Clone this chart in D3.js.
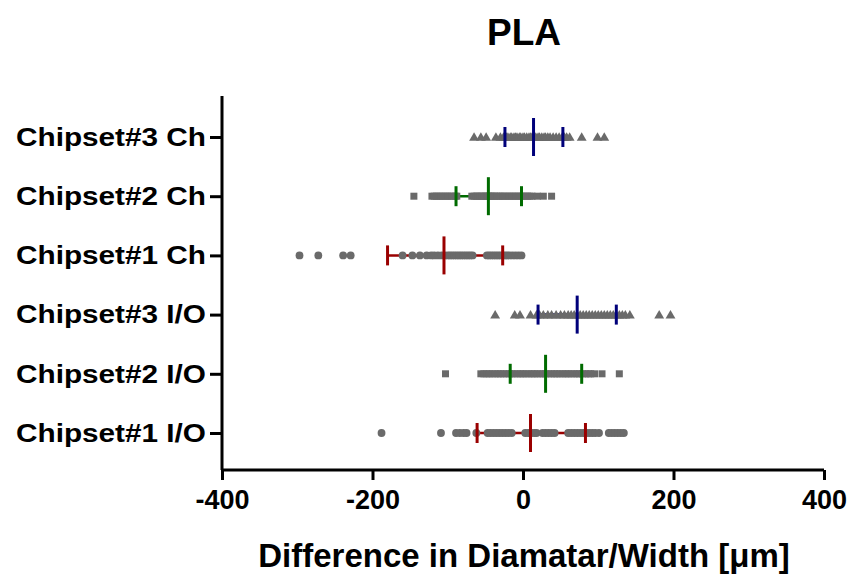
<!DOCTYPE html>
<html><head><meta charset="utf-8">
<script src="https://cdn.jsdelivr.net/npm/d3@7"></script>
<style>body{margin:0;background:#fff}svg{display:block}text{font-family:"Liberation Sans",Arial,sans-serif;font-weight:bold;fill:#000}</style>
</head><body>
<script>
const categories = ["Chipset#1 I/O","Chipset#2 I/O","Chipset#3 I/O","Chipset#1 Ch","Chipset#2 Ch","Chipset#3 Ch"];
const shapes = ["circle","square","triangle","circle","square","triangle"];
const barColors = ["#9a0000","#006b00","#00007a","#9a0000","#006b00","#00007a"];
const chipset1IO = [-188,-109,-89,-84,-79,-75,-62,-47,-43,-39,-35,-31,-27,-23,-19,-15,3,7,11,15,18,26,30,34,38,42,60,64,68,72,76,80,84,88,92,96,101,114,118,122,126,130,134];
const chipset2IO = [-103,-56,-52,-48,-45,-41,-37,-33,-30,-26,-22,-18,-15,-11,-7,-3,0,4,8,12,15,19,23,27,30,34,38,42,45,49,53,57,60,64,68,72,75,79,83,87,90,95,105,128];
const chipset3IO = [-37,-11,-4,10,18,22,27,33,38,44,50,55,60,64,68,72,76,80,84,88,92,96,100,104,108,112,116,120,124,128,132,136,142,181,196];
const chipset1Ch = [-297,-272,-239,-229,-160,-147,-137,-128,-122,-118,-113,-108,-104,-100,-97,-94,-91,-88,-85,-82,-79,-76,-73,-70,-67,-48,-45,-42,-39,-36,-33,-30,-27,-24,-21,-18,-14,-10,-6,-2];
const chipset2Ch = [-145,-121,-118,-115,-112,-109,-106,-103,-100,-97,-94,-90,-88,-68,-65,-62,-60,-57,-55,-52,-50,-48,-46,-44,-42,-40,-38,-35,-32,-30,-27,-24,-21,-18,-15,-12,-9,-6,-3,0,3,6,9,12,19,27,38];
const chipset3Ch = [-65,-56,-49,-36,-30,-26,-24,-22,-20,-17,-15,-12,-10,-8,-5,-3,0,2,5,8,10,12,14,15,17,20,22,25,28,30,33,36,40,44,48,52,53,55,58,62,78,99,108];
const seriesValues = [chipset1IO, chipset2IO, chipset3IO, chipset1Ch, chipset2Ch, chipset3Ch];
const medians = [10, 30, 72, -105, -46, 14];
const lowerBars = [-61, -17, 20, -180, -89, -24];
const upperBars = [83, 78, 124, -27, -2, 53];
const xTicks = [-400,-200,0,200,400];
const title = "PLA";
const xLabel = "Difference in Diamatar/Width [\u03bcm]";

const W = 850, H = 578;
const svg = d3.select("body").append("svg").attr("width", W).attr("height", H);
const mLeft = 222, mRight = 824, mTop = 96, mBottom = 470;
const x = d3.scaleLinear().domain([-400, 400]).range([mLeft, mRight]);
const y = d3.scalePoint().domain(categories).range([433, 137]);

const symbolOf = {circle: d3.symbolCircle, square: d3.symbolSquare, triangle: d3.symbolTriangle};
const sizeOf = {circle: 48, square: 49, triangle: 42};

categories.forEach((c, i) => {
  const g = svg.append("g");
  const cy = y(c);
  g.append("line").attr("x1", x(lowerBars[i])).attr("x2", x(upperBars[i]))
    .attr("y1", cy).attr("y2", cy).attr("stroke", barColors[i]).attr("stroke-width", 2.5);
  g.selectAll("path.pt").data(seriesValues[i]).join("path").attr("class", "pt")
    .attr("d", d3.symbol().type(symbolOf[shapes[i]]).size(sizeOf[shapes[i]]))
    .attr("transform", d => `translate(${x(d)},${cy + (shapes[i] === "triangle" ? 1 : 0)})`)
    .attr("fill", "#6a6a6a");
  [lowerBars[i], upperBars[i]].forEach(v => {
    g.append("line").attr("x1", x(v)).attr("x2", x(v)).attr("y1", cy - 10).attr("y2", cy + 10)
      .attr("stroke", barColors[i]).attr("stroke-width", 3);
  });
  g.append("line").attr("x1", x(medians[i])).attr("x2", x(medians[i])).attr("y1", cy - 19).attr("y2", cy + 19)
    .attr("stroke", barColors[i]).attr("stroke-width", 3);
});

const xAxis = svg.append("g").attr("transform", `translate(0,${mBottom})`)
  .call(d3.axisBottom(x).tickValues(xTicks).tickSize(10).tickPadding(10).tickFormat(d => String(d)));
const yAxis = svg.append("g").attr("transform", `translate(${mLeft},0)`)
  .call(d3.axisLeft(y).tickSize(12).tickPadding(4));
[xAxis, yAxis].forEach(a => {
  a.select(".domain").attr("stroke", "#000").attr("stroke-width", 3);
  a.selectAll(".tick line").attr("stroke", "#000").attr("stroke-width", 3);
});
xAxis.select(".domain").attr("d", `M${mLeft},0H${mRight}`);
yAxis.select(".domain").attr("d", `M0,${mTop}V${mBottom}`);
xAxis.selectAll(".tick text").style("font-size", "27px").style("font-family", "Liberation Sans, Arial, sans-serif").style("font-weight", "bold");
yAxis.selectAll(".tick text").style("font-size", "26px").style("font-family", "Liberation Sans, Arial, sans-serif").style("font-weight", "bold")
  .attr("textLength", 190).attr("lengthAdjust", "spacingAndGlyphs");

svg.append("text").attr("x", 524).attr("y", 45).attr("text-anchor", "middle").style("font-size", "37px").text(title);
svg.append("text").attr("x", 524).attr("y", 567).attr("text-anchor", "middle").style("font-size", "33px").text(xLabel);
</script>
</body></html>
